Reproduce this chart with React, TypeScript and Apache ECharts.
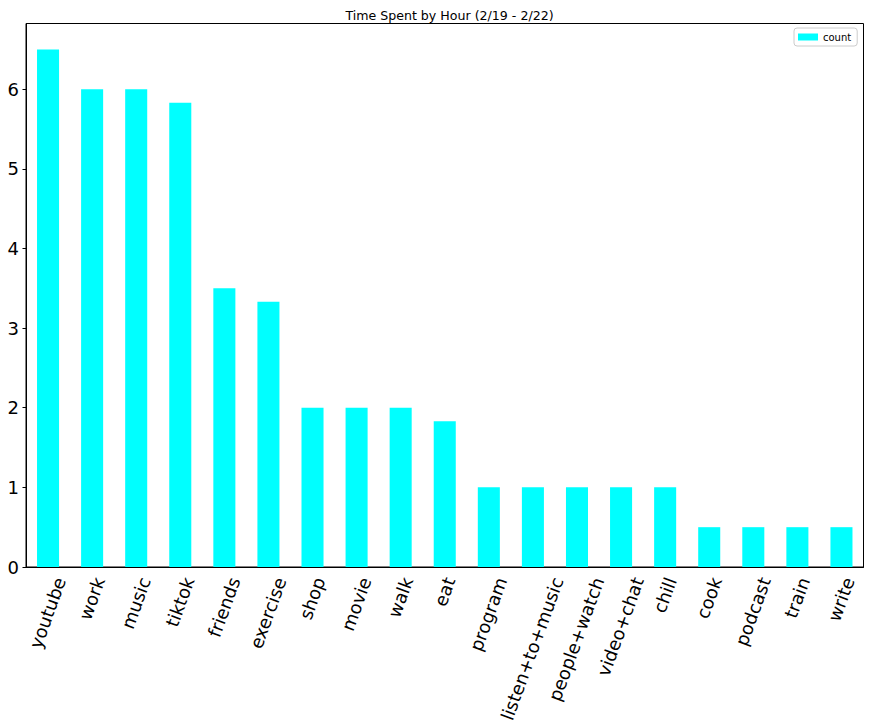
import React, { useEffect, useRef } from "react";
import * as echarts from "echarts";

const categories = [
  "youtube", "work", "music", "tiktok", "friends", "exercise", "shop", "movie", "walk", "eat",
  "program", "listen+to+music", "people+watch", "video+chat", "chill", "cook", "podcast", "train", "write",
];
const counts = [6.5, 6, 6, 5.83, 3.5, 3.33, 2, 2, 2, 1.83, 1, 1, 1, 1, 1, 0.5, 0.5, 0.5, 0.5];
const yTicks = [0, 1, 2, 3, 4, 5, 6];
const yMax = 6.825;
const seriesName = "count";
const titleText = "Time Spent by Hour (2/19 - 2/22)";

const FONT = '"DejaVu Sans", sans-serif';

export default function App() {
  const ref = useRef<HTMLDivElement>(null);
  useEffect(() => {
    const el = ref.current!;
    const chart = echarts.init(el, null, { renderer: "svg" });
    chart.setOption({
      animation: false,
      backgroundColor: "#fff",
      title: {
        text: titleText,
        left: 444.5,
        top: 4,
        textAlign: "center",
        textStyle: { fontFamily: FONT, fontSize: 12.6, fontWeight: "normal", color: "#000" },
      },
      legend: {
        data: [seriesName],
        left: 794,
        top: 28,
        padding: [4, 6, 4, 4],
        borderColor: "#cccccc",
        borderWidth: 1,
        borderRadius: 3,
        itemWidth: 20,
        itemHeight: 7,
        icon: "rect",
        textStyle: { fontFamily: FONT, fontSize: 10, color: "#000" },
      },
      grid: {
        left: 26,
        right: 9.5,
        top: 23.5,
        bottom: 161,
        show: true,
        borderColor: "#000",
        borderWidth: 1,
      },
      xAxis: {
        type: "category",
        data: categories,
        axisLine: { lineStyle: { color: "#000", width: 1 } },
        axisTick: { alignWithLabel: true, length: 3.5, lineStyle: { color: "#000" } },
        axisLabel: { show: false },
      },
      yAxis: {
        type: "value",
        min: 0,
        max: yMax,
        interval: 1,
        splitLine: { show: false },
        axisLine: { show: true, lineStyle: { color: "#000", width: 1 } },
        axisTick: { show: true, length: 3.5, lineStyle: { color: "#000" } },
        axisLabel: {
          fontFamily: FONT,
          fontSize: 18,
          color: "#000",
          margin: 7,
          showMaxLabel: false,
          formatter: (v: number) => (yTicks.includes(v) ? String(v) : ""),
        },
      },
      series: [
        {
          type: "bar",
          name: seriesName,
          data: counts,
          barWidth: "50%",
          itemStyle: { color: "#00ffff" },
        },
      ],
    });

    const ctx = document.createElement("canvas").getContext("2d")!;
    ctx.font = '18px "DejaVu Sans"';
    const y0 = chart.convertToPixel({ yAxisIndex: 0 }, 0) as number;
    const graphics = categories.map((c, i) => {
      const tx = chart.convertToPixel({ xAxisIndex: 0 }, i) as number;
      const w = ctx.measureText(c).width;
      return {
        type: "text",
        x: tx + 0.165 * w,
        y: y0 + 11,
        rotation: (70 * Math.PI) / 180,
        style: {
          text: c,
          font: `18px ${FONT}`,
          fill: "#000",
          align: "right",
          verticalAlign: "middle",
        },
      };
    });
    chart.setOption({ graphic: graphics });

    return () => chart.dispose();
  }, []);
  return (
    <div
      ref={ref}
      style={{ position: "absolute", left: 0, top: 0, width: 873, height: 728, background: "#fff" }}
    />
  );
}
